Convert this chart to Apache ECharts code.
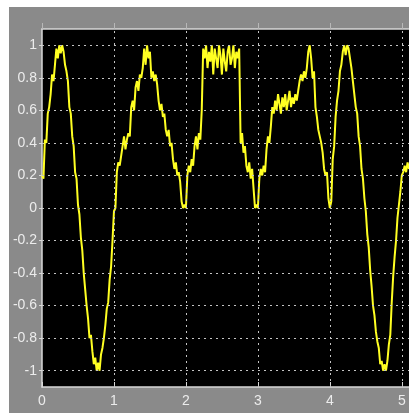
<!DOCTYPE html>
<html><head><meta charset="utf-8">
<script src="https://cdn.jsdelivr.net/npm/echarts@6/dist/echarts.min.js"></script>
<style>
html,body{margin:0;padding:0;background:#fff;width:409px;height:413px;overflow:hidden}
#c{position:absolute;left:9px;top:7px;width:400px;height:406px}
</style></head>
<body><div id="c"></div>
<script>
// sample spacing (seconds) of the scope trace
const sampleStep = 0.02;
// trace values, one per sample
const seg0 = [0.20,0.18,0.42,0.40,0.58,0.62,0.70,0.82,0.78,0.88,
  0.98,0.92,1.00,0.95,1.00,0.96,0.88,0.84,0.78,0.62,
  0.58,0.44,0.38,0.22,0.18,0.02,-0.04,-0.18,-0.26,-0.40,
  -0.50,-0.60,-0.68,-0.80,-0.78,-0.88,-0.96,-0.92,-1.00,-0.95,
  -1.00,-0.90,-0.86,-0.80,-0.72,-0.62,-0.58,-0.44,-0.36,-0.20,
  -0.02];
const seg1 = [0.00,0.22,0.28,0.26,0.32,0.38,0.44,0.36,0.42,0.46,
  0.44,0.62,0.66,0.60,0.74,0.78,0.72,0.82,0.80,0.86,
  0.98,0.88,1.00,0.92,0.96,0.80,0.84,0.78,0.82,0.76,
  0.66,0.60,0.64,0.56,0.58,0.48,0.44,0.48,0.38,0.40,
  0.30,0.24,0.28,0.20,0.22,0.16,0.04,0.00,0.02,0.00];
const seg2 = [0.20,0.26,0.22,0.30,0.26,0.38,0.44,0.36,0.46,0.42,
  0.60,0.98,0.92,1.00,0.86,0.96,0.90,1.00,0.82,0.98,
  0.92,0.86,1.00,0.94,0.82,0.98,0.90,0.84,0.96,1.00,
  0.88,0.92,1.00,0.86,0.96,0.92,0.98,0.40,0.46,0.34,
  0.38,0.26,0.22,0.28,0.18,0.24,0.12,0.00,0.02,0.00];
const seg3 = [0.18,0.24,0.20,0.26,0.22,0.36,0.44,0.40,0.50,0.62,
  0.58,0.66,0.60,0.70,0.64,0.58,0.68,0.62,0.70,0.60,
  0.66,0.72,0.62,0.68,0.64,0.70,0.66,0.72,0.78,0.82,
  0.78,0.84,0.80,0.86,0.96,1.00,0.92,0.80,0.84,0.62,
  0.56,0.48,0.44,0.40,0.34,0.24,0.20,0.22,0.06,0.00];
const seg4 = [0.04,0.30,0.38,0.56,0.66,0.72,0.84,0.88,0.96,1.00,
  0.94,1.00,0.98,0.92,0.86,0.78,0.70,0.62,0.58,0.44,
  0.38,0.24,0.18,0.06,-0.02,-0.16,-0.24,-0.38,-0.48,-0.60,
  -0.66,-0.76,-0.82,-0.86,-0.96,-0.94,-1.00,-0.96,-1.00,-0.94,
  -0.84,-0.78,-0.58,-0.42,-0.30,-0.20,-0.06,0.02,0.10,0.20,
  0.22,0.26,0.22,0.28,0.24];
const signal = [].concat(seg0, seg1, seg2, seg3, seg4);

const xTicks = [0, 1, 2, 3, 4, 5];
const xGridLines = [1, 2, 3, 4, 5];
const yTicks = [-1, -0.8, -0.6, -0.4, -0.2, 0, 0.2, 0.4, 0.6, 0.8, 1];
const xRange = [0, 5.1];
const yRange = [-1.1, 1.1];

const labelColor = '#ececec';
const axisColor = '#d8d8d8';
const gridColor = '#c4c4c4';

const chart = echarts.init(document.getElementById('c'), null, {renderer: 'canvas'});
const points = signal.map((v, i) => [+(i * sampleStep).toFixed(2), v]);
const gridMarks = yTicks.map(v => ({yAxis: v})).concat(xGridLines.map(v => ({xAxis: v})));

chart.setOption({
  backgroundColor: '#8a8a8a',
  animation: false,
  grid: {left: 33, top: 22, right: 0, bottom: 26, show: true, backgroundColor: '#000', borderWidth: 0},
  xAxis: [{
    type: 'value', min: xRange[0], max: xRange[1], position: 'bottom',
    axisLine: {show: true, onZero: false, lineStyle: {color: axisColor, width: 1.5}},
    axisTick: {show: true, inside: true, length: 5, customValues: xTicks, lineStyle: {color: axisColor}},
    axisLabel: {show: true, customValues: xTicks, color: labelColor, fontSize: 14, fontFamily: 'Liberation Sans', margin: 7,
      formatter: v => String(v)},
    splitLine: {show: false}
  }, {
    type: 'value', min: xRange[0], max: xRange[1], position: 'top',
    axisLine: {show: true, onZero: false, lineStyle: {color: axisColor, width: 1.5}},
    axisTick: {show: true, inside: false, length: 6, customValues: xTicks, lineStyle: {color: '#b8b8b8'}},
    axisLabel: {show: false},
    splitLine: {show: false}
  }],
  yAxis: {
    type: 'value', min: yRange[0], max: yRange[1],
    axisLine: {show: true, onZero: false, lineStyle: {color: axisColor, width: 1.5}},
    axisTick: {show: true, inside: false, length: 3, customValues: yTicks, lineStyle: {color: axisColor}},
    axisLabel: {show: true, customValues: yTicks, color: labelColor, fontSize: 14, fontFamily: 'Liberation Sans', margin: 5,
      formatter: v => String(v)},
    splitLine: {show: false}
  },
  series: [{
    type: 'line', data: [], z: 1, silent: true,
    markLine: {
      silent: true, symbol: 'none', animation: false,
      label: {show: false},
      lineStyle: {color: gridColor, type: [2, 4], width: 1},
      emphasis: {disabled: true},
      data: gridMarks
    }
  }, {
    type: 'line', data: points, z: 3, symbol: 'none', silent: true,
    lineStyle: {color: '#ffff22', width: 2}
  }]
});
</script>
</body></html>
